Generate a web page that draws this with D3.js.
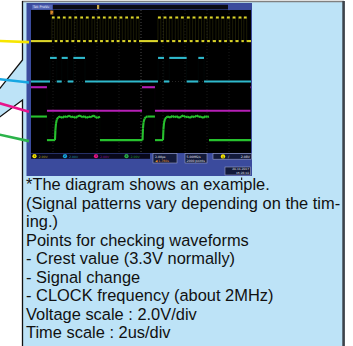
<!DOCTYPE html>
<html><head><meta charset="utf-8">
<script src="https://cdn.jsdelivr.net/npm/d3@7"></script>
<style>html,body{margin:0;padding:0;background:#fff;overflow:hidden}</style>
</head><body>
<svg id="c" width="353" height="346"></svg>
<script>
// ---------------- DATA ----------------
const timeDomain = [0, 20];          // microseconds (2 us/div x 10 div)
const voltDomain = [-10, 10];        // volts across the screen height
const channelNames = ["1", "2", "3", "4"];
const channelColors = ["#dcd52a", "#2fb9cc", "#b61fb6", "#27c12e"];
const leaderColors = ["#f7e600", "#17a7e2", "#e8158c", "#2bb34a"];
const channelOffsets = [5.65, 0.0, -4.1, -8.2];   // ground level of each trace (V)
const channelScales = ["2.00V", "2.00V", "2.00V", "2.00V"];
const highLevel = 3.3;

// CH1 : CLOCK  [rise, fall] in us
const clockPulses = [
  [1.90, 2.15], [2.39, 2.64], [2.90, 3.15], [3.42, 3.67], [3.94, 4.19], [4.48, 4.73],
  [4.99, 5.24], [5.54, 5.79], [6.03, 6.28], [6.54, 6.79], [7.05, 7.30], [7.54, 7.79],
  [8.05, 8.30], [8.57, 8.82], [9.08, 9.33], [9.57, 9.82],
  [11.54, 11.80], [12.05, 12.31], [12.57, 12.83], [13.12, 13.38], [13.63, 13.89], [14.17, 14.43],
  [14.69, 14.95], [15.24, 15.50], [15.75, 16.01], [16.26, 16.52], [16.81, 17.07], [17.30, 17.56],
  [17.81, 18.07], [18.33, 18.59], [18.87, 19.13], [19.35, 19.61]
];
// CH2 : data line, toggle times (starts low)
const cyanEdges = [1.73, 2.34, 2.79, 3.34, 3.85, 4.91, 11.55, 12.09, 12.57, 14.15, 15.21, 15.73];
// CH3 : toggle times (starts high)
const magentaEdges = [1.45, 10.09, 11.27, 19.95];
// CH4 : sampled points [t (us), V]
const greenPoints = [
  [0, 3.3], [1.45, 3.3], [1.45, 0], [2.18, 0], [2.22, 1.4], [2.27, 2.3], [2.35, 2.9], [2.48, 3.2],
  [2.65, 3.3], [2.85, 3.1], [3.05, 3.35], [3.25, 3.2], [3.45, 3.45], [3.65, 3.2], [3.85, 3.3],
  [4.05, 3.1], [4.25, 3.35], [4.45, 3.45], [4.65, 3.2], [4.85, 3.35], [5.05, 3.1], [5.25, 3.3],
  [5.45, 3.2], [5.65, 3.45], [5.85, 3.25], [6.05, 3.1], [6.27, 3.3], [6.27, 0], [10.14, 0],
  [10.18, 1.6], [10.23, 2.5], [10.32, 3.0], [10.45, 3.25], [10.6, 3.3], [11.27, 3.3], [11.27, 0],
  [12.0, 0], [12.04, 1.5], [12.09, 2.4], [12.18, 2.95], [12.3, 3.2], [12.45, 3.3], [12.65, 3.15],
  [12.85, 3.4], [13.05, 3.2], [13.25, 3.35], [13.45, 3.1], [13.65, 3.3], [13.85, 3.45], [14.05, 3.2],
  [14.25, 3.3], [14.45, 3.1], [14.65, 3.35], [14.85, 3.2], [15.05, 3.45], [15.25, 3.25], [15.45, 3.3],
  [15.65, 3.1], [15.85, 3.35], [16.05, 3.25], [16.18, 3.3], [16.18, 0], [20, 0]
];

const captionLines = [
  "*The diagram shows an example.",
  "(Signal patterns vary depending on the tim-",
  "ing.)",
  "Points for checking waveforms",
  "- Crest value (3.3V normally)",
  "- Signal change",
  "- CLOCK frequency (about 2MHz)",
  "Voltage scale : 2.0V/div",
  "Time scale : 2us/div"
];
const topLabel = "Tek PreVu";
const timebaseTexts = ["2.00\u00b5s", "\u25c0 1.760s"];
const sampleTexts = ["5.00MS/s", "2000 points"];
const triggerText = "2.08V";
const dateTexts = ["20-11-2017", "15:26:10"];

// ---------------- LAYOUT ----------------
const svg = d3.select("#c");
const BLUE_BG = "#bde3f7";
const FRAME = "#3b4b9d";

// callout box with pointer
svg.append("path")
  .attr("d", "M22.5,1.5 H343.5 V346 H22.5 V100 L-5,120.4 V94.6 L22.5,60 Z")
  .attr("fill", BLUE_BG);
svg.append("line").attr("x1", 22).attr("y1", 1.5).attr("x2", 344).attr("y2", 1.5)
  .attr("stroke", "#808080").attr("stroke-width", 1.6);
svg.append("path").attr("d", "M22.5,1 V60 L-5,94.6").attr("fill", "none").attr("stroke", "#111").attr("stroke-width", 1.3);
svg.append("path").attr("d", "M-5,120.4 L22.5,100 V346").attr("fill", "none").attr("stroke", "#111").attr("stroke-width", 1.3);
svg.append("line").attr("x1", 343.6).attr("y1", 1).attr("x2", 343.6).attr("y2", 346)
  .attr("stroke", "#3d434b").attr("stroke-width", 2.6);

// scope frame
const scr = {x0: 31, x1: 251, y0: 10, y1: 153};
svg.append("rect").attr("x", 26.5).attr("y", 3).attr("width", 225.5).attr("height", 173).attr("fill", FRAME);
svg.append("rect").attr("x", scr.x0).attr("y", scr.y0).attr("width", scr.x1 - scr.x0).attr("height", scr.y1 - scr.y0).attr("fill", "#000");

// top status bar
svg.append("rect").attr("x", 53).attr("y", 4.8).attr("width", 175).attr("height", 4.6).attr("fill", "#0b0b14");
svg.append("rect").attr("x", 32).attr("y", 4.8).attr("width", 20).attr("height", 4.6).attr("fill", "#5566b4");
svg.append("text").attr("x", 33).attr("y", 8.4).text(topLabel)
  .attr("font-family", "DejaVu Sans").attr("font-size", 3.4).attr("fill", "#e8ecff");
svg.append("rect").attr("x", 97).attr("y", 5).attr("width", 2.2).attr("height", 4).attr("fill", "#c9a64a");
svg.append("rect").attr("x", 50.3).attr("y", 10.5).attr("width", 3).attr("height", 4).attr("fill", "#d6862a");

// scales
const x = d3.scaleLinear().domain(timeDomain).range([scr.x0, scr.x1]);
const y = d3.scaleLinear().domain(voltDomain).range([scr.y1, scr.y0]);

// graticule (faint)
const g = svg.append("g");
g.selectAll("line.v").data(d3.range(1, 10)).join("line")
  .attr("x1", d => x(d * 2)).attr("x2", d => x(d * 2)).attr("y1", scr.y0).attr("y2", scr.y1)
  .attr("stroke", d => d === 5 ? "#5a5a5a" : "#222").attr("stroke-width", 0.8)
  .attr("stroke-dasharray", "1,2");
g.append("line").attr("x1", scr.x0).attr("x2", scr.x1).attr("y1", y(0)).attr("y2", y(0))
  .attr("stroke", "#2e2e2e").attr("stroke-width", 0.8).attr("stroke-dasharray", "1,2");

// build point lists
function stepPoints(edges, startHigh) {
  let lvl = startHigh ? highLevel : 0;
  const pts = [[timeDomain[0], lvl]];
  edges.forEach(t => { pts.push([t, lvl]); lvl = lvl ? 0 : highLevel; pts.push([t, lvl]); });
  pts.push([timeDomain[1], lvl]);
  return pts;
}
const clockEdges = clockPulses.flat();
const traces = [
  stepPoints(clockEdges, false),
  stepPoints(cyanEdges, false),
  stepPoints(magentaEdges, true),
  greenPoints
];

traces.forEach((pts, i) => {
  const off = channelOffsets[i];
  const segs = d3.pairs(pts);
  const tg = svg.append("g");
  tg.selectAll("line").data(segs).join("line")
    .attr("x1", d => x(d[0][0])).attr("y1", d => y(d[0][1] + off))
    .attr("x2", d => x(d[1][0])).attr("y2", d => y(d[1][1] + off))
    .attr("stroke", channelColors[i])
    .attr("stroke-width", d => d[0][0] === d[1][0] ? 0.6 : 2.1)
    .attr("stroke-opacity", d => d[0][0] === d[1][0] ? (i === 0 ? 0.22 : 0.06) : 1)
    .attr("stroke-linecap", "butt");
});

// bottom info bar
const bar = svg.append("g");
bar.append("rect").attr("x", 31).attr("y", 153.6).attr("width", 119).attr("height", 5.2).attr("fill", "#08081a");
const chX = [34.5, 65, 96, 126.5];
channelNames.forEach((c, i) => {
  bar.append("circle").attr("cx", chX[i]).attr("cy", 156.2).attr("r", 2.1).attr("fill", leaderColors[i]);
  bar.append("text").attr("x", chX[i]).attr("y", 157.3).attr("text-anchor", "middle").text(c)
    .attr("font-family", "DejaVu Sans").attr("font-size", 3).attr("fill", "#000");
  bar.append("text").attr("x", chX[i] + 4).attr("y", 157.5).text(channelScales[i])
    .attr("font-family", "DejaVu Sans").attr("font-size", 3.2).attr("fill", channelColors[i]).attr("fill-opacity", 0.75);
});
function infoBox(x0, y0, w, h) {
  bar.append("rect").attr("x", x0).attr("y", y0).attr("width", w).attr("height", h)
    .attr("fill", "#131a3a").attr("stroke", "#9aa2c8").attr("stroke-width", 0.6);
}
infoBox(153, 153.6, 24, 9.4);
bar.append("text").attr("x", 155).attr("y", 157.5).text(timebaseTexts[0]).attr("font-family", "DejaVu Sans").attr("font-size", 3.1).attr("fill", "#e8e8f0");
bar.append("text").attr("x", 155).attr("y", 161.6).text(timebaseTexts[1]).attr("font-family", "DejaVu Sans").attr("font-size", 3.1).attr("fill", "#e8962c");
infoBox(185, 153.6, 22, 9.4);
bar.append("text").attr("x", 186.5).attr("y", 157.5).text(sampleTexts[0]).attr("font-family", "DejaVu Sans").attr("font-size", 3.1).attr("fill", "#e8e8f0");
bar.append("text").attr("x", 186.5).attr("y", 161.6).text(sampleTexts[1]).attr("font-family", "DejaVu Sans").attr("font-size", 3.1).attr("fill", "#e8e8f0");
infoBox(213, 153.6, 38.5, 5.6);
bar.append("circle").attr("cx", 223).attr("cy", 156.4).attr("r", 2.2).attr("fill", leaderColors[0]);
bar.append("text").attr("x", 223).attr("y", 157.5).attr("text-anchor", "middle").text(channelNames[0]).attr("font-family", "DejaVu Sans").attr("font-size", 3).attr("fill", "#000");
bar.append("text").attr("x", 228).attr("y", 157.8).text("/").attr("font-family", "DejaVu Sans").attr("font-size", 3.4).attr("fill", "#e8e8f0");
bar.append("text").attr("x", 250).attr("y", 157.8).attr("text-anchor", "end").text(triggerText).attr("font-family", "DejaVu Sans").attr("font-size", 3.2).attr("fill", "#e8e8f0");
infoBox(225, 167, 25.5, 8);
bar.append("text").attr("x", 249).attr("y", 170.3).attr("text-anchor", "end").text(dateTexts[0]).attr("font-family", "DejaVu Sans").attr("font-size", 2.9).attr("fill", "#e8e8f0");
bar.append("text").attr("x", 249).attr("y", 174.2).attr("text-anchor", "end").text(dateTexts[1]).attr("font-family", "DejaVu Sans").attr("font-size", 2.9).attr("fill", "#e8e8f0");
svg.append("rect").attr("x", 241).attr("y", 177.5).attr("width", 1.2).attr("height", 2.5).attr("fill", "#222");

// leader lines
const leaderStartY = [41, 79, 102.7, 134.3];
channelOffsets.forEach((off, i) => {
  svg.append("line").attr("x1", -2).attr("y1", leaderStartY[i]).attr("x2", 29).attr("y2", y(off) + 1)
    .attr("stroke", leaderColors[i]).attr("stroke-width", 2.6);
});

// caption
const cap = svg.append("g").attr("font-family", "'Liberation Sans', Arial, sans-serif").attr("font-size", 16.3).attr("fill", "#111");
const texts = cap.selectAll("text").data(captionLines).join("text")
  .attr("x", 0).attr("y", (d, i) => 190.5 + i * 18.45).text(d => d);
const natural = texts.nodes()[1].getComputedTextLength();
const sx = 314 / natural;
cap.attr("transform", `translate(26,0) scale(${sx},1)`);
</script>
</body></html>
